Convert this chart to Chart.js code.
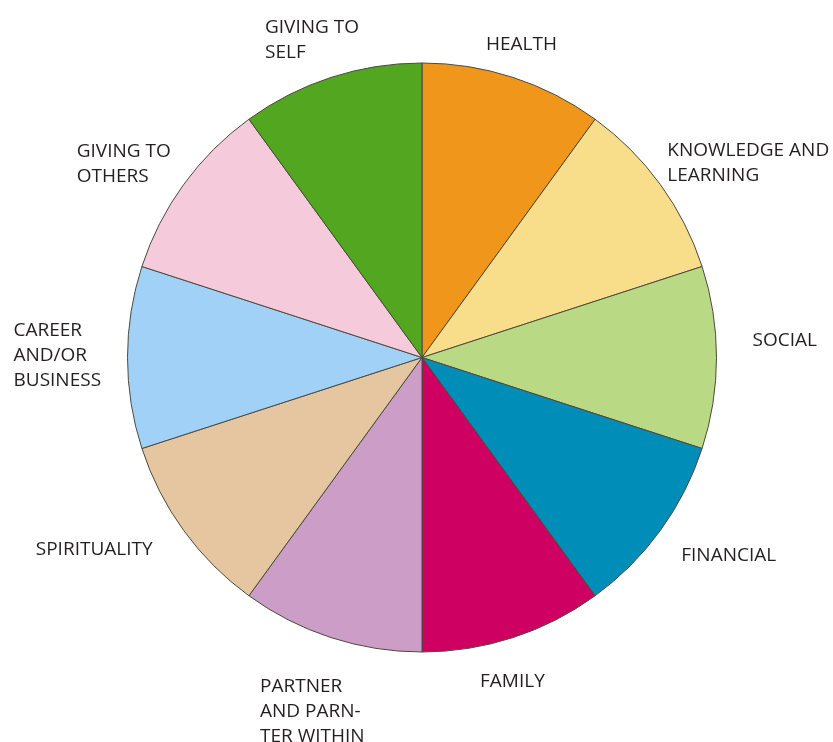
<!DOCTYPE html>
<html>
<head>
<meta charset="utf-8">
<script src="https://cdn.jsdelivr.net/npm/chart.js@4.4.1/dist/chart.umd.min.js"></script>
<style>
  html, body { margin: 0; padding: 0; background: #ffffff; }
  #wrap { width: 833px; height: 742px; }
</style>
</head>
<body>
<div id="wrap"><canvas id="myChart" width="833" height="742"></canvas></div>
<script>
// Áreas de la rueda (empezando arriba, sentido horario)
var areas = [
    ["HEALTH"],
    ["KNOWLEDGE AND", "LEARNING"],
    ["SOCIAL"],
    ["FINANCIAL"],
    ["FAMILY"],
    ["PARTNER", "AND PARN-", "TER WITHIN"],
    ["SPIRITUALITY"],
    ["CAREER", "AND/OR", "BUSINESS"],
    ["GIVING TO", "OTHERS"],
    ["GIVING TO", "SELF"]
];
// Todas las porciones iguales
var valores = [1, 1, 1, 1, 1, 1, 1, 1, 1, 1];
var colores = ["#f0961a", "#f8de8a", "#b9d985", "#008db8", "#ce0062",
               "#cc9dc6", "#e6c5a1", "#a2d1f7", "#f5cadb", "#52a620"];

// Desplazamiento de cada etiqueta desde el borde exterior de su porción
var desplazamientos = [[-27, -27], [7, -28], [36, -12], [21, 30], [-33, 49],
                       [-71, 54], [-148, 24], [-114, -22], [-107, -27], [-66, -44]];

var etiquetasPlugin = {
    id: 'etiquetas',
    afterDraw: function(chart) {
        var ctx = chart.ctx;
        var arcs = chart.getDatasetMeta(0).data;
        ctx.save();
        ctx.font = '500 19px "Open Sans", sans-serif';
        ctx.fillStyle = '#231f20';
        ctx.textAlign = 'left';
        ctx.textBaseline = 'alphabetic';
        arcs.forEach(function(arc, i) {
            var mid = (arc.startAngle + arc.endAngle) / 2;
            var x = arc.x + Math.cos(mid) * arc.outerRadius + desplazamientos[i][0];
            var y = arc.y + Math.sin(mid) * arc.outerRadius + desplazamientos[i][1];
            areas[i].forEach(function(linea, j) {
                ctx.fillText(linea, x, y + j * 25);
            });
        });
        ctx.restore();
    }
};

var ctx = document.getElementById('myChart').getContext('2d');
var myChart = new Chart(ctx, {
    type: 'pie',
    data: {
        labels: areas.map(function(a) { return a.join(' '); }),
        datasets: [{
            data: valores,
            backgroundColor: colores,
            borderColor: '#4a4a3c',
            borderWidth: 1
        }]
    },
    options: {
        responsive: false,
        animation: false,
        layout: { padding: { left: 127, right: 116, top: 62, bottom: 89 } },
        plugins: {
            legend: { display: false },
            tooltip: { enabled: false }
        }
    },
    plugins: [etiquetasPlugin]
});
</script>
</body>
</html>
